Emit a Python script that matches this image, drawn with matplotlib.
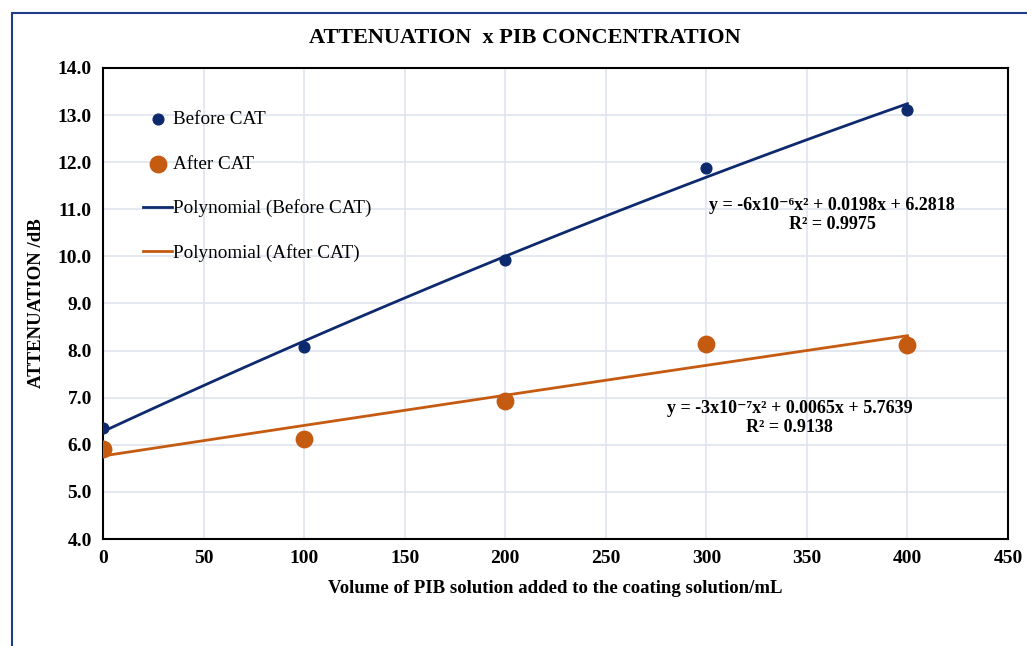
import numpy as np
import matplotlib.pyplot as plt
from matplotlib.patches import Rectangle

volume = [0, 100, 200, 300, 400]
before_cat = [6.35, 8.08, 9.93, 11.87, 13.10]
after_cat = [5.92, 6.12, 6.93, 8.15, 8.12]

# trendline coefficients as printed on the chart (a, b, c)
before_coef = [-6e-6, 0.0198, 6.2818]
after_coef = [-3e-7, 0.0065, 5.7639]
before_eq = "y = -6x10\u207b\u2076x\u00b2 + 0.0198x + 6.2818\nR\u00b2 = 0.9975"
after_eq = "y = -3x10\u207b\u2077x\u00b2 + 0.0065x + 5.7639\nR\u00b2 = 0.9138"

navy = "#0e2a6e"
orange = "#c55a11"
serif = ["Liberation Serif", "DejaVu Serif"]
plt.rcParams["font.family"] = serif

fig = plt.figure(figsize=(10.27, 6.46), dpi=100)
fig.patches.append(Rectangle((12 / 1027, -0.1), 1.2, 1 - 13 / 646 + 0.1,
                             transform=fig.transFigure, fill=False,
                             edgecolor="#1f3c88", linewidth=1.5))

ax = fig.add_axes([103 / 1027, 1 - 539 / 646, 905 / 1027, 471 / 646])

xs = np.linspace(0, 400, 100)
ax.plot(xs, np.polyval(before_coef, xs), color=navy, linewidth=2,
        label="Polynomial (Before CAT)", zorder=3)
ax.plot(xs, np.polyval(after_coef, xs), color=orange, linewidth=2,
        label="Polynomial (After CAT)", zorder=3)
ax.scatter(volume, before_cat, s=60, color=navy, label="Before CAT", zorder=4)
ax.scatter(volume, after_cat, s=140, color=orange, label="After CAT", zorder=4)

ax.set_xlim(0, 450)
ax.set_ylim(4, 14)
ax.set_xticks(range(0, 451, 50))
ax.set_yticks(np.arange(4, 14.1, 1))
ax.set_yticklabels([f"{v:.1f}" for v in np.arange(4, 14.1, 1)])
ax.grid(True, color="#dfe5ef", linewidth=1.2)
ax.set_axisbelow(True)
for s in ax.spines.values():
    s.set_color("black")
    s.set_linewidth(1.5)
ax.tick_params(length=0, labelsize=14, pad=8)
for lbl in ax.get_xticklabels() + ax.get_yticklabels():
    lbl.set_fontweight("bold")

ax.set_xlabel("Volume of PIB solution added to the coating solution/mL",
              fontsize=13.5, fontweight="bold", labelpad=9)
ax.set_ylabel("ATTENUATION /dB", fontsize=13.5, fontweight="bold", labelpad=9)
fig.text(0.511, 1 - 38 / 646, "ATTENUATION  x PIB CONCENTRATION",
         ha="center", va="center", fontsize=16, fontweight="bold")

ax.text(362.5, 10.88, before_eq, ha="center", va="center", fontsize=13,
        fontweight="bold", linespacing=1.15)
ax.text(341.5, 6.57, after_eq, ha="center", va="center", fontsize=13,
        fontweight="bold", linespacing=1.15)

handles, labels = ax.get_legend_handles_labels()
order = [2, 3, 0, 1]
ax.legend([handles[i] for i in order], [labels[i] for i in order],
          loc="upper left", bbox_to_anchor=(0.036, 0.925), frameon=False,
          fontsize=13.8, labelspacing=1.4, handlelength=1.5,
          handletextpad=0.05, borderaxespad=0)

fig.savefig("out.png", dpi=100)
